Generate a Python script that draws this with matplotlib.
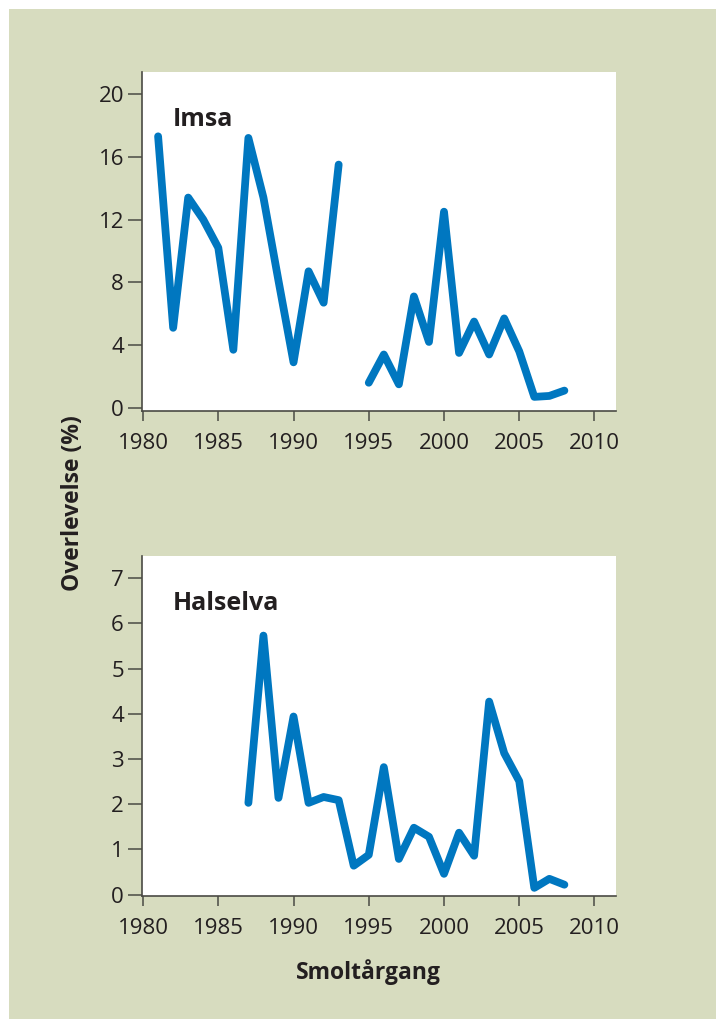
import matplotlib.pyplot as plt
from matplotlib.patches import Rectangle

# === DATA ===
imsa_years_a = [1981, 1982, 1983, 1984, 1985, 1986, 1987, 1988, 1989, 1990, 1991, 1992, 1993]
imsa_vals_a = [17.3, 5.1, 13.4, 12.0, 10.2, 3.7, 17.2, 13.4, 8.1, 2.9, 8.7, 6.7, 15.5]
imsa_years_b = [1995, 1996, 1997, 1998, 1999, 2000, 2001, 2002, 2003, 2004, 2005, 2006, 2007, 2008]
imsa_vals_b = [1.6, 3.4, 1.5, 7.1, 4.2, 12.5, 3.5, 5.5, 3.4, 5.7, 3.6, 0.7, 0.76, 1.1]

hals_years = list(range(1987, 2009))
hals_vals = [2.03, 5.73, 2.14, 3.94, 2.03, 2.16, 2.09, 0.64, 0.88, 2.82, 0.79, 1.48,
             1.28, 0.46, 1.37, 0.86, 4.27, 3.13, 2.51, 0.15, 0.35, 0.22]

xticks = [1980, 1985, 1990, 1995, 2000, 2005, 2010]
imsa_yticks = [0, 4, 8, 12, 16, 20]
hals_yticks = [0, 1, 2, 3, 4, 5, 6, 7]

# === STYLE ===
plt.rcParams['font.family'] = ['Open Sans', 'DejaVu Sans']
line_color = '#0077c0'
bg_color = '#d7dcbf'
spine_color = '#4a4a44'
txt_color = '#231f20'

fig = plt.figure(figsize=(7.16, 10.19), dpi=100)
fig.patch.set_facecolor('white')
fig.patches.append(Rectangle((9 / 716, 0), 1, 1 - 9 / 1019, transform=fig.transFigure,
                             facecolor=bg_color, edgecolor='none', zorder=-10))

ax1 = fig.add_axes([142 / 716, 1 - 411 / 1019, 474 / 716, 339 / 1019])
ax2 = fig.add_axes([142 / 716, 1 - 896 / 1019, 474 / 716, 340 / 1019])


def style_axis(ax, yticks, ylim, title):
    ax.set_facecolor('white')
    ax.set_xlim(1979.93, 2011.43)
    ax.set_ylim(*ylim)
    ax.set_xticks(xticks)
    ax.set_yticks(yticks)
    for side in ['top', 'right']:
        ax.spines[side].set_visible(False)
    for side in ['left', 'bottom']:
        ax.spines[side].set_color(spine_color)
        ax.spines[side].set_linewidth(1.2)
    ax.tick_params(axis='x', direction='out', length=7.5, width=1.1, color=spine_color,
                   pad=8, labelsize=16, labelcolor=txt_color)
    ax.tick_params(axis='y', direction='out', length=10, width=1.1, color=spine_color,
                   pad=3, labelsize=16, labelcolor=txt_color)
    ax.text(0.065, 0.842, title, transform=ax.transAxes, fontsize=18,
            fontweight='bold', color=txt_color, va='baseline', ha='left')


# === TOP: IMSA ===
lw = 5.6
ax1.plot(imsa_years_a, imsa_vals_a, color=line_color, lw=lw,
         solid_capstyle='round', solid_joinstyle='round')
ax1.plot(imsa_years_b, imsa_vals_b, color=line_color, lw=lw,
         solid_capstyle='round', solid_joinstyle='round')
style_axis(ax1, imsa_yticks, (-0.2, 21.4), 'Imsa')

# === BOTTOM: HALSELVA ===
ax2.plot(hals_years, hals_vals, color=line_color, lw=lw,
         solid_capstyle='round', solid_joinstyle='round')
style_axis(ax2, hals_yticks, (-0.03, 7.49), 'Halselva')

# === LABELS ===
fig.text(73 / 716, 1 - 503 / 1019, 'Overlevelse (%)', rotation=90, fontsize=16.5,
         fontweight='bold', color=txt_color, ha='center', va='center')
fig.text(368 / 716, 1 - 972 / 1019, 'Smoltårgang', fontsize=16.5,
         fontweight='bold', color=txt_color, ha='center', va='center')

fig.savefig('out.png', dpi=100, facecolor=fig.get_facecolor())
